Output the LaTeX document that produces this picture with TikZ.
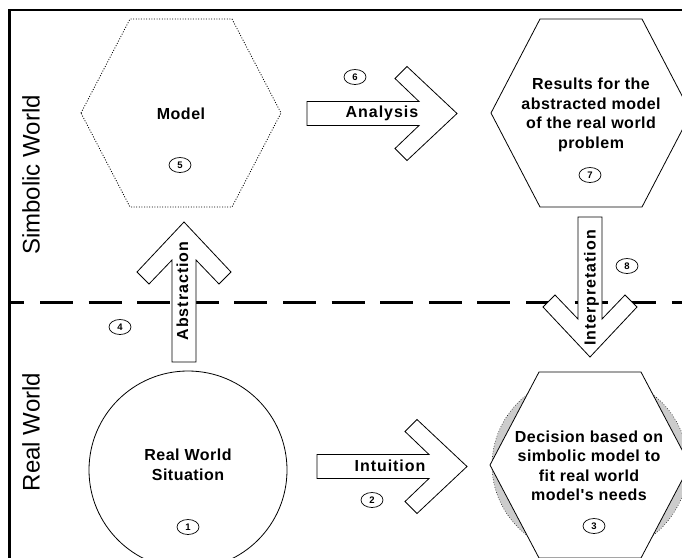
\documentclass[tikz,border=0pt]{standalone}
\usepackage{fontspec}
\setmainfont{Liberation Sans}
\newfontfamily\tagfont[LetterSpace=6]{Liberation Sans}
\newfontfamily\boxfont[LetterSpace=3]{Liberation Sans}
\usetikzlibrary{shapes.geometric}

% block arrow with a chevron head: start point, direction angle, length
\newcommand\chevronarrow[3]{%
  \draw[blockarrow, shift={#1}, rotate=#2]
    (0,-12) -- ({#3-38},-12) -- ({#3-62},-35) -- ({#3-50},-47) -- (#3,0)
    -- ({#3-50},47) -- ({#3-62},35) -- ({#3-38},12) -- (0,12) -- cycle;}

\tikzset{
  frameline/.style={line width=2.5pt, line cap=rect},
  divider/.style={line width=3pt, dash pattern=on 33pt off 15.6pt, dash phase=18.6pt},
  hexline/.style={line width=0.8pt, line join=miter},
  modelline/.style={line width=0.8pt, dash pattern=on 1pt off 1.6pt},
  blockarrow/.style={draw, fill=white, line width=0.8pt, line join=miter},
  worldlabel/.style={font=\fontsize{24}{28}\selectfont, rotate=90, anchor=base, inner sep=0pt},
  boxtext/.style={font=\boxfont\bfseries\fontsize{16}{19.5}\selectfont, align=center, inner sep=0pt},
  arrowtext/.style={font=\tagfont\bfseries\fontsize{16}{19}\selectfont, anchor=base, inner sep=0pt},
  stepnum/.style={ellipse, draw, line width=0.7pt, minimum width=22pt, minimum height=15pt,
    inner sep=0pt, font=\bfseries\fontsize{9.5}{10}\selectfont},
}

\begin{document}
\begin{tikzpicture}[x=1pt, y=-1pt]
\useasboundingbox (0,0) rectangle (682,557);
\begin{scope}
\clip (0,0) rectangle (682,557);
\fill[white] (0,0) rectangle (682,557);

% frame and the border between the two worlds
\draw[frameline] (9.5,570) -- (9.5,10) -- (690,10);
\draw[divider] (10,302) -- (690,302);

% world labels
\node[worldlabel] (symbolic) at (39.5,175) {Simbolic World};
\node[worldlabel] (real) at (39.5,432) {Real World};

% model (dotted hexagon)
\draw[modelline] (81,113) -- (130,19) -- (232,19) -- (281,113) -- (232,207) -- (130,207) -- cycle;
\node[boxtext] (model) at (181,114) {Model};

% results hexagon
\draw[hexline] (491,113) -- (540,19) -- (642,19) -- (691,113) -- (642,207) -- (540,207) -- cycle;
\node[boxtext] (results) at (591,115) {Results for the\\abstracted model\\of the real world\\problem};

% decision hexagon over a shaded oval
\fill[gray!40] (590,465) ellipse[x radius=98, y radius=92];
\draw[line width=0.6pt, dotted] (590,465) ellipse[x radius=98, y radius=92];
\filldraw[hexline, fill=white] (490,465) -- (539,372) -- (641,372) -- (690,465) -- (641,558) -- (539,558) -- cycle;
\node[boxtext] (decision) at (589,466) {Decision based on\\simbolic model to\\fit real world\\model's needs};

% real world situation
\draw[line width=0.8pt] (188,470) circle[radius=99];
\node[boxtext] (situation) at (188,465) {Real World\\Situation};

% block arrows
\chevronarrow{(307,113.5)}{0}{150}
\chevronarrow{(317,466.5)}{0}{150}
\chevronarrow{(184,362)}{90}{140}
\chevronarrow{(590,217)}{-90}{140}

\node[arrowtext] (analysis) at (382,117) {Analysis};
\node[arrowtext] (intuition) at (390,471) {Intuition};
\node[arrowtext, rotate=90] (abstraction) at (188,291) {Abstraction};
\node[arrowtext, rotate=90] (interpretation) at (595.5,288) {Interpretation};

% step numbers
\node[stepnum] (n1) at (188,527) {1};
\node[stepnum] (n2) at (372,500) {2};
\node[stepnum] (n3) at (594,526) {3};
\node[stepnum] (n4) at (120,327) {4};
\node[stepnum] (n5) at (180,165) {5};
\node[stepnum] (n6) at (355,77) {6};
\node[stepnum] (n7) at (590,175) {7};
\node[stepnum] (n8) at (627,266) {8};
\end{scope}
\end{tikzpicture}
\end{document}
